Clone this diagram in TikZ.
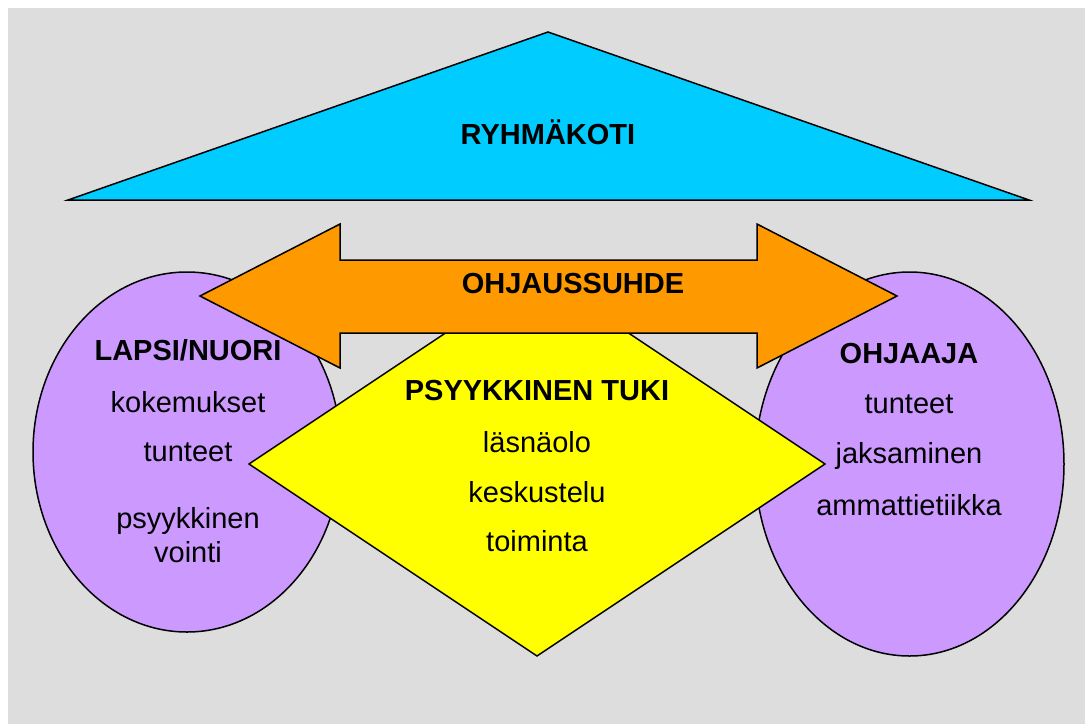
\documentclass[tikz,border=0pt]{standalone}
\usepackage{fontspec}
\setmainfont{Liberation Sans}
\definecolor{bggray}{HTML}{DDDDDD}
\definecolor{roofblue}{HTML}{00CCFF}
\definecolor{arroworange}{HTML}{FF9900}
\definecolor{tukiyellow}{HTML}{FFFF00}
\definecolor{lilac}{HTML}{CC99FF}
\begin{document}
\begin{tikzpicture}[x=1pt,y=-1pt,line width=1.5pt]
  \tikzstyle{txt}=[inner sep=0pt,anchor=base,font=\fontsize{29}{34}\selectfont]
  \tikzstyle{head}=[txt,font=\fontsize{29}{34}\selectfont\bfseries]
  \useasboundingbox (0,0) rectangle (1085,724);
  \fill[bggray] (8,8) rectangle (1085,724);

  \draw[fill=roofblue] (548,32) -- (1029,200) -- (68,200) -- cycle;
  \node[head] (ryhmakoti) at (548,144) {RYHMÄKOTI};

  \draw[fill=lilac] (187,452) ellipse [x radius=154, y radius=180];
  \node[head] (lapsi) at (188,360) {LAPSI/NUORI};
  \node[txt] (L_1) at (188,412) {kokemukset};
  \node[txt] (L_2) at (188,461) {tunteet};
  \node[txt] (L_3) at (188,528) {psyykkinen};
  \node[txt] (L_4) at (188,562) {vointi};

  \draw[fill=lilac] (909.5,464) ellipse [x radius=154.5, y radius=192];
  \node[head] (ohjaaja) at (909,363) {OHJAAJA};
  \node[txt] (O_1) at (909,413) {tunteet};
  \node[txt] (O_2) at (909,463) {jaksaminen};
  \node[txt] (O_3) at (909,515) {ammattietiikka};

  \draw[fill=tukiyellow] (537,272) -- (825,464) -- (537,656) -- (249,464) -- cycle;
  \node[head] (tuki) at (537,400) {PSYYKKINEN TUKI};
  \node[txt] (T_1) at (537,452) {läsnäolo};
  \node[txt] (T_2) at (537,502) {keskustelu};
  \node[txt] (T_3) at (537,551) {toiminta};

  \draw[fill=arroworange] (200,296) -- (340,224) -- (340,260) -- (757,260) -- (757,224)
    -- (897,296) -- (757,368) -- (757,333) -- (340,333) -- (340,368) -- cycle;
  \node[head] (ohjaussuhde) at (573,293) {OHJAUSSUHDE};
\end{tikzpicture}
\end{document}
